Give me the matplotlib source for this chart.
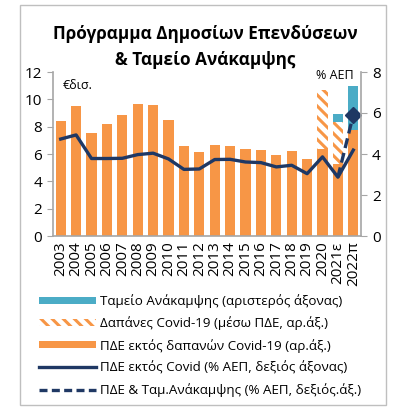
import numpy as np
import matplotlib.pyplot as plt
from matplotlib.patches import Rectangle, Patch
from matplotlib.lines import Line2D

plt.rcParams['font.family'] = ['Open Sans', 'DejaVu Sans']
plt.rcParams['hatch.linewidth'] = 2.2

# data
years = ['2003', '2004', '2005', '2006', '2007', '2008', '2009', '2010', '2011', '2012',
         '2013', '2014', '2015', '2016', '2017', '2018', '2019', '2020', '2021ε', '2022π']
pde_ex_covid = [8.45, 9.53, 7.51, 8.2, 8.82, 9.68, 9.6, 8.47, 6.6, 6.13,
                6.63, 6.58, 6.38, 6.28, 5.96, 6.23, 5.64, 6.4, 5.3, 7.75]
covid_spend = [0] * 17 + [4.25, 3.05, 0]
recovery_fund = [0] * 18 + [0.6, 3.25]
pde_pct_gdp = [4.73, 4.93, 3.78, 3.78, 3.79, 3.97, 4.04, 3.76, 3.25, 3.27,
               3.73, 3.74, 3.61, 3.58, 3.37, 3.45, 3.04, 3.86, 2.87, 4.19]
pde_rrf_years = ['2021ε', '2022π']
pde_rrf_pct_gdp = [2.87, 5.91]

orange = '#F79646'
teal = '#4BACC6'
navy = '#1F3864'
grey = '#A6A6A6'

fig = plt.figure(figsize=(3.98, 4.19), dpi=100)
fig.patches.append(Rectangle((20 / 398, 1 - 405 / 419), 366 / 398, 400 / 419,
                             transform=fig.transFigure, fill=False,
                             edgecolor='#BFBFBF', linewidth=1))

ax = fig.add_axes([53 / 398, 1 - 236 / 419, 308 / 398, 164 / 419])
x = np.arange(len(years))
w = 0.65
bottom2 = np.array(pde_ex_covid)
bottom3 = bottom2 + np.array(covid_spend)
ax.bar(x, pde_ex_covid, w, color=orange, linewidth=0)
ax.bar(x, covid_spend, w, bottom=bottom2, facecolor='white', edgecolor=orange,
       hatch='\\\\\\', linewidth=0)
ax.bar(x, recovery_fund, w, bottom=bottom3, color=teal, linewidth=0)

ax.set_xlim(-0.5, len(years) - 0.5)
ax.set_ylim(0, 12)
ax.set_yticks(range(0, 13, 2))
ax.set_xticks(x)
ax.set_xticklabels(years, rotation=90, fontsize=11)
ax.tick_params(axis='x', length=0, pad=4)
ax.tick_params(axis='y', labelsize=11, length=4, color=grey, pad=4)
for s in ['top', 'right']:
    ax.spines[s].set_visible(False)
for s in ['left', 'bottom']:
    ax.spines[s].set_color(grey)
    ax.spines[s].set_linewidth(1.2)
ax.text(0.03, 0.96, '€δισ.', transform=ax.transAxes, fontsize=9, va='top')

ax2 = ax.twinx()
ax2.plot(x, pde_pct_gdp, color=navy, linewidth=2.4, solid_joinstyle='round')
xr = [years.index(y) for y in pde_rrf_years]
ax2.plot(xr, pde_rrf_pct_gdp, color=navy, linewidth=2.4, linestyle=(0, (3, 1.5)))
ax2.plot(xr[-1:], pde_rrf_pct_gdp[-1:], marker='D', markersize=8, color=navy,
         linestyle='none')
ax2.set_ylim(0, 8)
ax2.set_yticks(range(0, 9, 2))
ax2.tick_params(axis='y', labelsize=11, length=4, color=grey, pad=4)
for s in ['top', 'left', 'bottom']:
    ax2.spines[s].set_visible(False)
ax2.spines['right'].set_color(grey)
ax2.spines['right'].set_linewidth(1.2)
ax2.text(0.975, 1.02, '% ΑΕΠ', transform=ax2.transAxes, fontsize=9, va='top', ha='right')

fig.text(205 / 398, 1 - 47 / 419, 'Πρόγραμμα Δημοσίων Επενδύσεων\n& Ταμείο Ανάκαμψης',
         ha='center', va='center', fontsize=12.3, fontweight='bold', linespacing=1.6)

handles = [
    Patch(facecolor=teal, linewidth=0),
    Patch(facecolor='white', edgecolor=orange, hatch='\\\\\\', linewidth=0),
    Patch(facecolor=orange, linewidth=0),
    Line2D([], [], color=navy, linewidth=2.4),
    Line2D([], [], color=navy, linewidth=2.4, linestyle=(0, (2.4, 1.3))),
]
labels = [
    'Ταμείο Ανάκαμψης (αριστερός άξονας)',
    'Δαπάνες Covid-19 (μέσω ΠΔΕ, αρ.άξ.)',
    'ΠΔΕ εκτός δαπανών Covid-19 (αρ.άξ.)',
    'ΠΔΕ εκτός Covid (% ΑΕΠ, δεξιός άξονας)',
    'ΠΔΕ & Ταμ.Ανάκαμψης (% ΑΕΠ, δεξιός.άξ.)',
]
fig.legend(handles, labels, loc='upper left', bbox_to_anchor=(39 / 398, 1 - 294 / 419),
           frameon=False, fontsize=9.6, handlelength=4.3, handleheight=0.45,
           handletextpad=0.25, labelspacing=0.64, borderpad=0, borderaxespad=0)

fig.savefig('out.png', dpi=100)
